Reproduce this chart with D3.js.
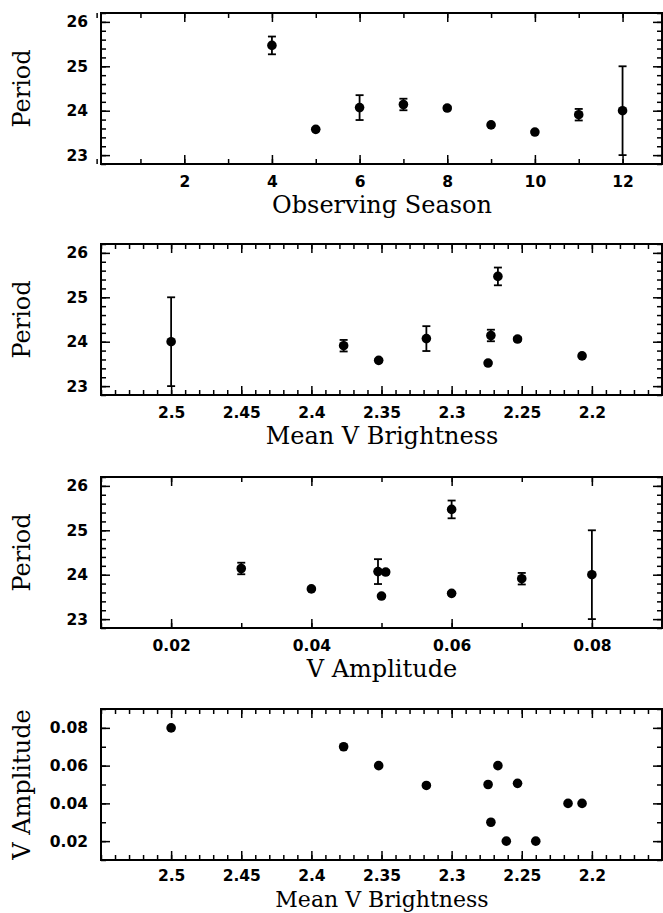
<!DOCTYPE html>
<html>
<head>
<meta charset="utf-8">
<script src="https://cdn.jsdelivr.net/npm/d3@7"></script>
<style>
  body { margin: 0; background: #fff; }
  .tick text { font-family: "DejaVu Sans", sans-serif; font-weight: bold; font-size: 15.5px; fill: #000; }
  .tick line { stroke: #000; stroke-width: 1.5; }
  .title { font-family: "DejaVu Serif", serif; font-size: 24px; fill: #000; }
</style>
</head>
<body>
<svg id="chart"></svg>
<script>
// one entry per observing season (seasons 1-3 have no period)
var season    = [1, 2, 3, 4, 5, 6, 7, 8, 9, 10, 11, 12];
var meanV     = [2.261, 2.240, 2.217, 2.267, 2.352, 2.318, 2.272, 2.253, 2.207, 2.274, 2.377, 2.500];
var vAmp      = [0.02, 0.02, 0.04, 0.06, 0.06, 0.0495, 0.03, 0.0506, 0.04, 0.05, 0.07, 0.08];
var period    = [null, null, null, 25.47, 23.58, 24.07, 24.14, 24.06, 23.68, 23.52, 23.91, 24.00];
var periodErr = [null, null, null, 0.20, 0.03, 0.28, 0.13, 0.04, 0.03, 0.03, 0.13, 1.00];

var periodTicks = [23, 24, 25, 26];
var seasonTicks = [2, 4, 6, 8, 10, 12];
var brightTicks = [2.5, 2.45, 2.4, 2.35, 2.3, 2.25, 2.2];
var ampTicks    = [0.02, 0.04, 0.06, 0.08];

var width = 663, height = 913;
var left = 101, right = 662, panelH = 151;

var svg = d3.select("#chart").attr("width", width).attr("height", height);
svg.append("rect").attr("width", width).attr("height", height).attr("fill", "#fff");

var rows = season.map(function(s, i) {
  return {season: s, meanV: meanV[i], amp: vAmp[i], period: period[i], err: periodErr[i]};
});
var withPeriod = rows.filter(function(d) { return d.period != null; });

function fmt(d) { return String(+d.toFixed(2)); }

function minorRange(a, b, step) {
  return d3.range(Math.round(a / step), Math.round(b / step) + 1).map(function(k) { return +(k * step).toFixed(4); });
}

function drawPanel(top, cfg) {
  var x = d3.scaleLinear().domain(cfg.xDomain).range([left, right]);
  var y = d3.scaleLinear().domain(cfg.yDomain).range([top + panelH, top]);
  var g = svg.append("g");
  var pad = cfg.pad || 12, titleY = cfg.titleY || (top + panelH + 49);

  var xMinor = minorRange(Math.min.apply(null, cfg.xDomain), Math.max.apply(null, cfg.xDomain), cfg.xMinor);
  var yMinor = minorRange(Math.min.apply(null, cfg.yDomain), Math.max.apply(null, cfg.yDomain), cfg.yMinor);

  // minor ticks all four sides
  g.append("g").attr("transform", "translate(0," + (top + panelH) + ")")
    .call(d3.axisBottom(x).tickValues(xMinor).tickSize(-5).tickFormat(""));
  g.append("g").attr("transform", "translate(0," + top + ")")
    .call(d3.axisTop(x).tickValues(xMinor).tickSize(-5).tickFormat(""));
  g.append("g").attr("transform", "translate(" + left + ",0)")
    .call(d3.axisLeft(y).tickValues(yMinor).tickSize(-5).tickFormat(""));
  g.append("g").attr("transform", "translate(" + right + ",0)")
    .call(d3.axisRight(y).tickValues(yMinor).tickSize(-5).tickFormat(""));

  // major ticks
  g.append("g").attr("transform", "translate(0," + (top + panelH) + ")")
    .call(d3.axisBottom(x).tickValues(cfg.xTicks).tickSize(-9).tickPadding(pad).tickFormat(fmt));
  g.append("g").attr("transform", "translate(0," + top + ")")
    .call(d3.axisTop(x).tickValues(cfg.xTicks).tickSize(-9).tickFormat(""));
  g.append("g").attr("transform", "translate(" + left + ",0)")
    .call(d3.axisLeft(y).tickValues(cfg.yTicks).tickSize(-9).tickPadding(13).tickFormat(fmt));
  g.append("g").attr("transform", "translate(" + right + ",0)")
    .call(d3.axisRight(y).tickValues(cfg.yTicks).tickSize(-9).tickFormat(""));

  g.selectAll(".domain").remove();

  g.append("rect")
    .attr("x", left).attr("y", top)
    .attr("width", right - left).attr("height", panelH)
    .attr("fill", "none").attr("stroke", "#000").attr("stroke-width", 2);

  // error bars
  if (cfg.errors) {
    var eb = g.selectAll(".eb").data(cfg.data).enter().append("g");
    eb.append("line")
      .attr("x1", function(d) { return x(cfg.xv(d)); })
      .attr("x2", function(d) { return x(cfg.xv(d)); })
      .attr("y1", function(d) { return y(d.period - d.err); })
      .attr("y2", function(d) { return y(d.period + d.err); })
      .attr("stroke", "#000").attr("stroke-width", 1.8);
    [-1, 1].forEach(function(s) {
      eb.append("line")
        .attr("x1", function(d) { return x(cfg.xv(d)) - 4; })
        .attr("x2", function(d) { return x(cfg.xv(d)) + 4; })
        .attr("y1", function(d) { return y(d.period + s * d.err); })
        .attr("y2", function(d) { return y(d.period + s * d.err); })
        .attr("stroke", "#000").attr("stroke-width", 1.8);
    });
  }

  g.selectAll(".dot").data(cfg.data).enter().append("circle")
    .attr("cx", function(d) { return x(cfg.xv(d)); })
    .attr("cy", function(d) { return y(cfg.yv(d)); })
    .attr("r", 4.8)
    .attr("fill", "#000");

  g.append("text").attr("class", "title")
    .attr("x", (left + right) / 2 + 0.5).attr("y", titleY)
    .attr("text-anchor", "middle")
    .style("font-size", cfg.titleSize || null)
    .text(cfg.xLabel);

  g.append("text").attr("class", "title")
    .attr("transform", "translate(30," + (top + panelH / 2) + ") rotate(-90)")
    .attr("text-anchor", "middle")
    .text(cfg.yLabel);
}

drawPanel(13, {
  data: withPeriod, errors: true,
  xv: function(d) { return d.season; }, yv: function(d) { return d.period; },
  xDomain: [0.1, 12.9], yDomain: [22.8, 26.2],
  xTicks: seasonTicks, xMinor: 1, yTicks: periodTicks, yMinor: 0.2,
  xLabel: "Observing Season", yLabel: "Period"
});

drawPanel(244, {
  data: withPeriod, errors: true,
  xv: function(d) { return d.meanV; }, yv: function(d) { return d.period; },
  xDomain: [2.55, 2.15], yDomain: [22.8, 26.2],
  xTicks: brightTicks, xMinor: 0.01, yTicks: periodTicks, yMinor: 0.2,
  xLabel: "Mean V Brightness", yLabel: "Period"
});

drawPanel(477, {
  data: withPeriod, errors: true,
  xv: function(d) { return d.amp; }, yv: function(d) { return d.period; },
  xDomain: [0.01, 0.09], yDomain: [22.8, 26.2],
  xTicks: ampTicks, xMinor: 0.01, yTicks: periodTicks, yMinor: 0.2,
  xLabel: "V Amplitude", yLabel: "Period"
});

drawPanel(709, {
  data: rows, errors: false,
  xv: function(d) { return d.meanV; }, yv: function(d) { return d.amp; },
  xDomain: [2.55, 2.15], yDomain: [0.01, 0.09],
  xTicks: brightTicks, xMinor: 0.01, yTicks: ampTicks, yMinor: 0.01,
  xLabel: "Mean V Brightness", yLabel: "V Amplitude",
  pad: 10, titleY: 907, titleSize: "22px"
});
</script>
</body>
</html>
